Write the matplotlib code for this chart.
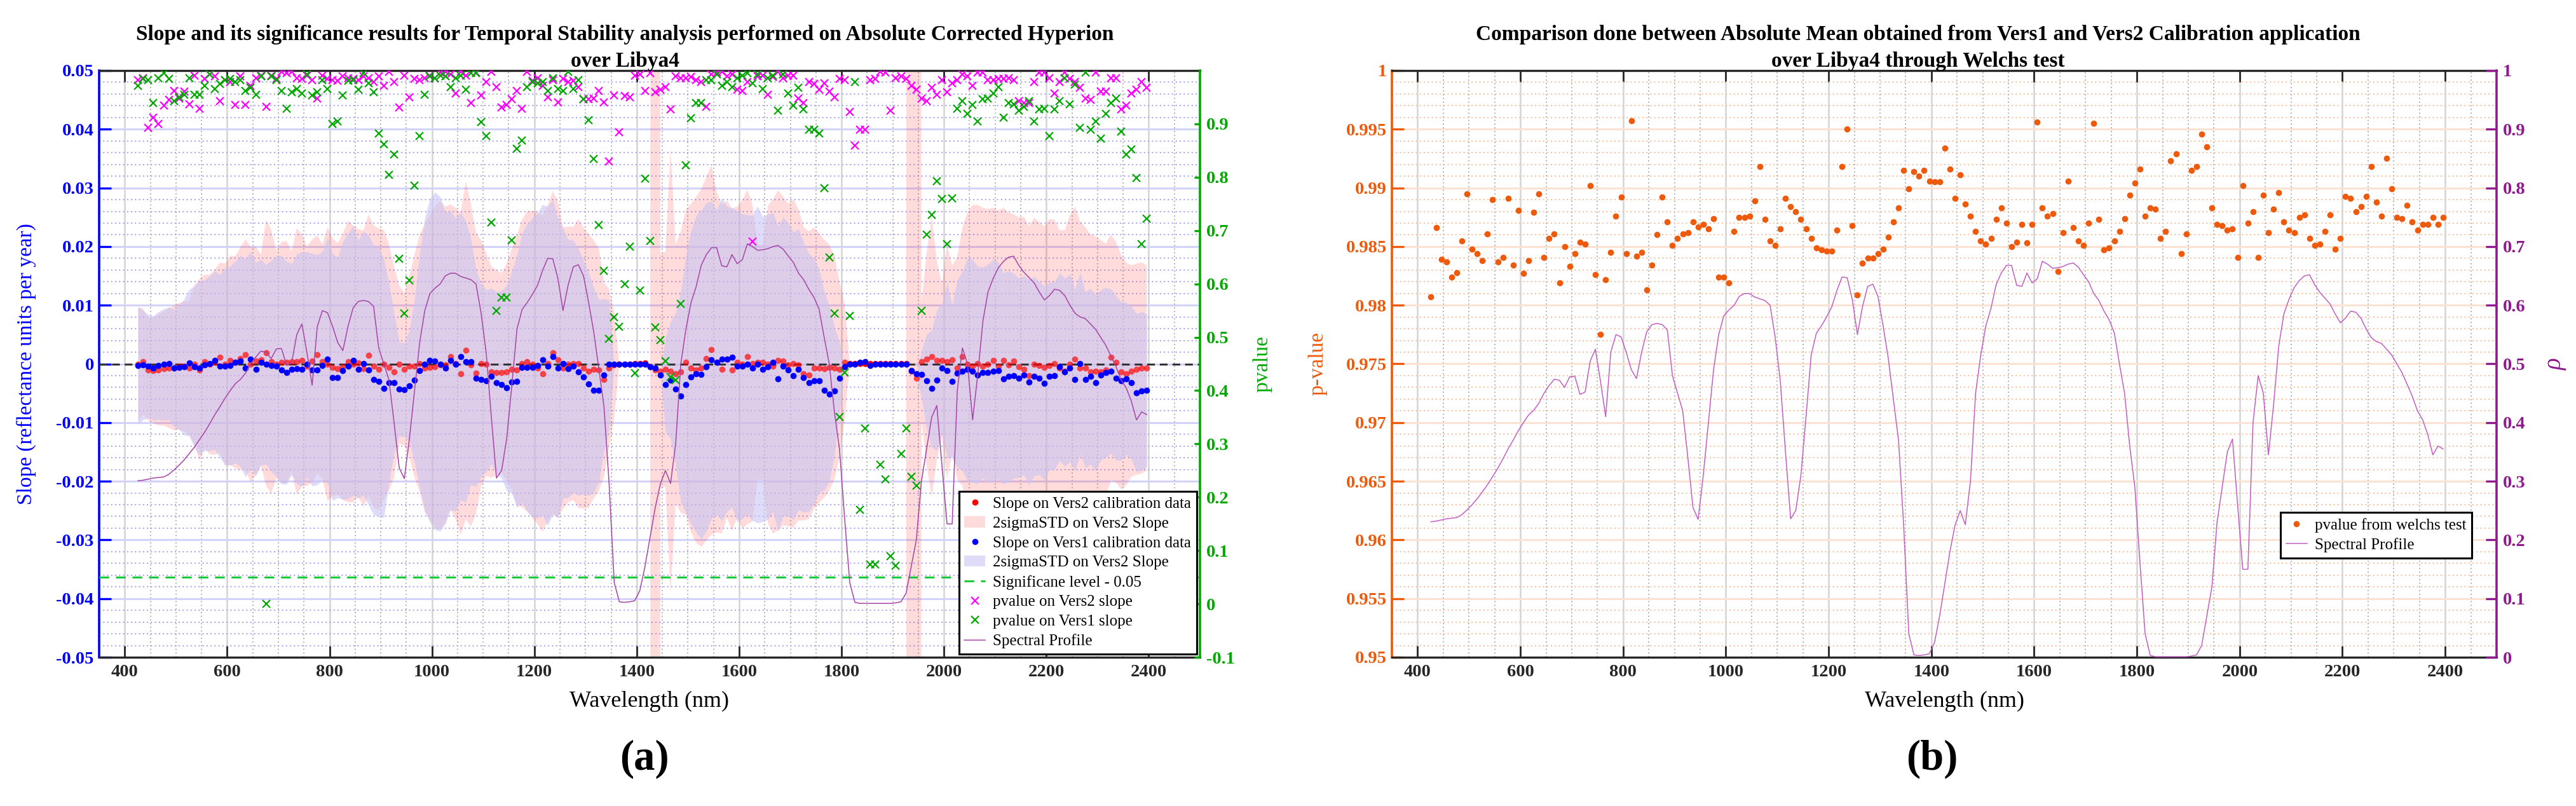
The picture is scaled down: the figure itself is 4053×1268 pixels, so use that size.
import numpy as np
import matplotlib
matplotlib.use('Agg')
import matplotlib.pyplot as plt
from matplotlib.ticker import MultipleLocator, FuncFormatter

plt.rcParams['font.family'] = ['Liberation Serif', 'DejaVu Serif']
plt.rcParams['font.weight'] = 'bold'

# band centres (nm), one value every ~10 nm
wavelength = np.arange(426, 2397, 10)

# ---- panel (a) -------------------------------------------------------
# slopes in 1e-4 reflectance units per year
slope_vers2_e4 = [
    -1, 4, -10, -11, -10, -8, -7, -7, -4, -4,
    -7, -1, -10, 4, -1, 3, 11, -1, 6, 3,
    9, 16, -1, 5, 7, 19, 4, -1, 3, 3,
    4, 4, 6, -4, 5, 16, 4,
    0, -6, -8, -5, 4, 0, 2, -8, 15, -4, -9, -1, -6, -14, -1, -9, -4, -4, 1, -7,
    -6, -5, -2, -2, 12, 1, -17, 23, -2, -16,
    1, -1, -14, -15, -15, -14, -9, -10, 1, 4,
    -1, -7, -17, 1, 19, 7, -7, -1, 1, 1,
    -7, -12, -9, -10, -27,
    -7, -2, 0, 0, 0, 1, 1, 2, -5,
    -10, -12, -9, -12, -17, -14, 3, -7, -10, -7, 9, 24, 3, -9, 8, -10, 3, -1, 12, 1,
    3, 3, -1, -4, 6, 5, -2, 1, -2, -17, -19, -7, -7, -8, -6, -7, -9, 3,
    1, 1, 1, 1, 1, 1, 1, 1, 1, 1, 1, 1,
    -12, -24, 4, 8, 12, 6, 6, 4, 7, -7, 12, -1, -4, 1, -4, -1, 6, -4, 6, -2,
    5, -5, -9, -20, -1, -3, -6, -3, 1, -7, -12, -1, 8, -7, -7, -14, -12, -14, -10, 11,
    3, -14, -17, -12, -9, -7, -7,
]
slope_vers1_e4 = [
    -3, -2, -4, -7, -3, -1, 1, -7, -6, -5,
    2, -5, -7, -2, 1, 6, -4, -4, -3, 3,
    5, -7, 8, -9, 3, -1, -3, -4, -10, -15,
    -9, -8, -9, -1, -10, -10, -3,
    8, -23, -23, -11, -4, 6, -9, 1, -10, -27, -30, -42, -32, -32, -43, -44, -37, -28, -11, -1,
    6, 5, 0, -7, 6, -1, 13, 4, 4, -24,
    -27, -29, -21, -32, -35, -41, -31, -30, -6, -6,
    -6, -3, 7, -4, 12, -7, 1, -8, -4, -14,
    -22, -34, -45, -45, -19,
    -1, 0, 0, 0, 0, 0, 0, 0, -5,
    -7, -19,
    -35, -28, -43, -55, -35, -22, -17, -18, -5, 7,
    3, 8, 8, 11, -4, -4, -1, -7, -1, -9,
    -5, 3, -25, -4, -10, -20, -9, -23, -32, -29,
    -29, -45, -51, -46, -24, -5, -1, 0, 3, 4,
    -3, 0, 0, 0, 0, 0, 0, 0, -11, -17,
    -18, -29, -42, -28, -7, -11, -30, -16, -12, -9,
    -12, -19, -15, -15, -12, -11, -25, -21, -20, -24,
    -19, -31, -21, -24, -33, -21, -20, -5, -14, -7,
    -27, 1, -27, -21, -32, -19, -15, -12, -24, -29,
    -25, -32, -49, -46, -45,
]
# 2 sigma half widths in 1e-3 reflectance units per year
sigma2_vers2_e3 = [
    9.8, 9.0, 8.7, 9.0, 9.5, 9.7, 10.2, 10.6, 10.8, 11.0,
    11.5, 13.5, 15.5, 14.8, 15.3, 15.8, 16.2, 17.2, 17.8, 18.1,
    19.0, 19.7, 20.0, 19.5, 18.0, 22.7, 22.5, 19.4, 20.5, 20.7,
    18.8, 22.7, 21.5, 20.4, 20.7, 20.3, 20.0, 23.3, 22.0, 21.4,
    22.7, 24.0, 23.6, 22.8, 23.5, 24.0, 24.0, 24.0, 23.0, 21.0,
    18.0, 13.5, 13.0, 15.5, 19.0, 22.0, 24.5, 26.0, 27.5, 28.0,
    27.0, 26.0, 26.5, 27.5, 28.8, 27.5, 24.0, 21.0, 19.0, 18.0,
    17.5, 17.0, 18.5, 20.5, 23.0, 24.5, 25.6, 26.2, 26.6, 26.9,
    27.0, 27.5, 27.0, 24.0, 23.5, 23.3, 24.6, 24.0, 23.3, 22.0,
    20.7, 16.5, 13.5, 9.0, 0, 0, 0, 0, 0, 0,
    0, 900, 20, 20, 38, 22, 24, 26, 28, 29.5,
    30.5, 31, 31.5, 29, 28, 27, 27.5, 26.5, 28.0, 28.5,
    27, 20, 20, 27, 28.5, 29, 28, 27.5, 28, 26.5,
    25, 24.5, 24, 23, 22, 21, 19, 15, 10, 0,
    0, 0, 0, 0, 0, 0, 0, 0, 0, 0,
    0, 900, 900, 10, 18, 24, 17, 13, 20, 16,
    19, 22, 26, 27.5, 27, 27, 26.5, 26, 26.5, 26,
    26, 25, 25.5, 26, 25.5, 25, 24.5, 24, 25, 24.5,
    23.5, 24, 25.5, 26, 25, 24, 23.5, 23, 22.5, 21.5,
    21, 20.5, 20, 19, 18, 18, 18, 17.5,
]
sigma2_vers1_e3 = [
    10.0, 9.3, 8.8, 8.9, 9.2, 9.5, 9.6, 10.0, 10.6, 11.6,
    12.5, 13.8, 14.8, 14.6, 14.9, 15.2, 15.6, 16.8, 17.0, 17.2,
    18.0, 18.6, 18.4, 18.2, 17.5, 17.0, 18.0, 18.8, 19.5, 19.0,
    18.0, 19.6, 20.0, 19.2, 19.8, 19.6, 19.5, 20.8, 21.0, 20.5,
    22.0, 22.6, 23.0, 22.0, 22.5, 23.0, 23.0, 23.0, 22.0, 17.0,
    12.0, 8.0, 8.0, 9.5, 14.0, 20.0, 25.0, 27.6, 28.8, 28.5,
    26.5, 25.5, 25.0, 24.5, 24.0, 21.0, 18.5, 16.5, 15.5, 15.0,
    15.5, 16.0, 17.5, 19.0, 21.5, 23.0, 24.5, 25.5, 26.0, 26.5,
    27.2, 26.8, 25.5, 23.0, 22.0, 21.5, 21.0, 20.0, 19.0, 17.5,
    15.5, 13.0, 11.0, 0, 0, 0, 0, 0, 0, 0,
    0, 0, 0, 8, 10, 13, 18, 22, 25, 27,
    28, 28, 27, 26, 27.5, 26, 25.5, 26.5, 26.0, 25.5,
    26, 27, 26, 26, 25.5, 26, 25.5, 25, 24.5, 24,
    23, 22, 21, 19, 17, 15, 11, 6, 0, 0,
    0, 0, 0, 0, 0, 0, 0, 0, 0, 0,
    0, 0, 0, 4, 8, 10, 12, 11, 15, 13,
    16, 17, 19, 19, 18.5, 18, 18.5, 19, 18.5, 18,
    18, 17.5, 17, 17, 17.5, 17, 16.5, 16.5, 16, 16,
    16, 16, 16, 15.5, 15.5, 15, 15, 15, 14.5, 14.5,
    14, 14, 13.5, 13, 13, 13.5, 13.5, 13,
]
pvalue_vers2 = [
    0.982, 0.986, 0.893, 0.912, 0.900, 0.934, 0.945, 0.962, 0.948, 0.961,
    0.937, 0.991, 0.929, 0.984, 0.993, 0.989, 0.943, 0.982, 0.979, 0.936,
    0.989, 0.936, 0.971, 0.986, 0.991, 0.932, 0.991, 0.984, 0.998, 0.995,
    0.998, 0.986, 0.984, 0.991, 0.982, 0.948, 0.991, 0.984, 0.982, 0.981,
    0.989,
    0.986, 0.984, 0.982, 0.989, 0.986, 0.979, 0.989, 0.971, 0.998, 0.979,
    0.931, 0.991, 0.950, 0.984, 0.982, 0.986, 0.991, 0.986, 0.996, 0.998,
    0.993, 0.957, 0.998, 0.991, 0.939, 0.996, 0.954, 0.979, 0.998, 0.969,
    0.931, 0.936, 0.946, 0.962, 0.929, 0.998, 0.981, 0.986, 0.971, 0.950,
    0.982, 0.941, 0.984, 0.979, 0.981, 0.969, 0.946, 0.946, 0.948, 0.962,
    0.941, 0.829, 0.954, 0.884, 0.952, 0.950, 0.991,
    0.993, 0.962, 0.995, 0.959, 0.964, 0.969, 0.927, 0.989, 0.986, 0.986,
    0.988, 0.982, 0.979, 0.932, 0.993, 0.996, 0.998, 0.989, 0.993, 0.964,
    0.962, 0.979, 0.679, 0.989, 0.991, 0.955, 0.988, 0.998, 0.986, 0.991,
    0.991, 0.948, 0.939, 0.979, 0.975, 0.964, 0.976, 0.961, 0.950, 0.984,
    0.982, 0.922, 0.859, 0.889, 0.889, 0.982, 0.984, 0.998, 0.996, 0.925,
    0.986, 0.989, 0.984, 0.971, 0.964, 0.948, 0.943, 0.968, 0.955, 0.982,
    0.959, 0.976, 0.982, 0.993, 0.989, 0.971, 0.996, 0.996, 0.982, 0.982,
    0.984, 0.984, 0.986, 0.982, 0.943, 0.939, 0.939, 0.979, 0.996, 0.996,
    0.986, 0.957, 0.979, 0.996, 0.984, 0.979, 0.968, 0.948, 0.945, 0.996,
    0.961, 0.961, 0.986, 0.986, 0.927, 0.934, 0.957, 0.964, 0.979, 0.968,
]
pvalue_vers1 = [
    0.971, 0.984, 0.982, 0.939, 0.986, 0.995, 0.984, 0.943, 0.950, 0.955,
    0.986, 0.955, 0.955, 0.971, 0.993, 0.966, 0.975, 0.982, 0.984, 0.979,
    0.982, 0.962, 0.968, 0.955, 0.989, 0.000, 0.989, 0.982, 0.962, 0.929,
    0.959, 0.966, 0.957, 0.993, 0.954, 0.959, 0.982, 0.966, 0.900, 0.905,
    0.954, 0.981, 0.982, 0.964, 0.995, 0.976, 0.959, 0.882, 0.862, 0.804, 0.843,
    0.647, 0.545, 0.607, 0.784, 0.877, 0.955, 0.989, 0.986, 0.991, 0.989,
    0.969, 0.986, 0.991, 0.964, 0.995, 0.995, 0.904, 0.877, 0.715, 0.550,
    0.575, 0.574, 0.682, 0.854, 0.869, 0.969, 0.979, 0.976, 0.979, 0.962,
    0.986, 0.966, 0.962, 0.998, 0.966, 0.982, 0.946, 0.907, 0.834, 0.710,
    0.624, 0.497, 0.538, 0.520, 0.600, 0.670, 0.433,
    0.588, 0.797, 0.681, 0.518, 0.495, 0.455, 0.425, 0.420, 0.563, 0.822,
    0.911, 0.939, 0.939, 0.982, 0.982, 0.993, 0.971, 0.979, 0.969, 0.986,
    0.991, 0.995, 0.976, 0.993, 0.966, 0.986, 0.991, 0.925, 0.993, 0.957,
    0.934, 0.968, 0.927, 0.889, 0.889, 0.882, 0.779, 0.650, 0.545, 0.350,
    0.434, 0.540, 0.979, 0.177, 0.329, 0.074, 0.074, 0.261, 0.234, 0.090,
    0.072, 0.281, 0.329, 0.238, 0.222, 0.550, 0.693, 0.729, 0.793, 0.759,
    0.675, 0.761, 0.929, 0.943, 0.919, 0.936, 0.905, 0.946, 0.948, 0.957,
    0.969, 0.912, 0.939, 0.937, 0.925, 0.932, 0.943, 0.905, 0.927, 0.929,
    0.877, 0.927, 0.943, 0.986, 0.937, 0.974, 0.893, 0.996, 0.889, 0.905,
    0.873, 0.919, 0.939, 0.948, 0.886, 0.843, 0.852, 0.798, 0.675, 0.722,
]
# spectral profile (reflectance), plotted on the right axis of both panels
spectral_profile = [
    0.231, 0.232, 0.234, 0.236, 0.237, 0.238, 0.243, 0.251, 0.260, 0.270,
    0.282, 0.294, 0.308, 0.322, 0.338, 0.355, 0.370, 0.386, 0.400, 0.413,
    0.421, 0.433, 0.450, 0.463, 0.474, 0.472, 0.460, 0.478, 0.479, 0.448,
    0.452, 0.505, 0.525, 0.470, 0.410, 0.520, 0.550, 0.546, 0.520, 0.490,
    0.475, 0.520, 0.555, 0.567, 0.569, 0.567, 0.558, 0.480, 0.450, 0.420,
    0.340, 0.255, 0.235, 0.310, 0.400, 0.490, 0.550, 0.582, 0.592, 0.600,
    0.615, 0.620, 0.620, 0.614, 0.611, 0.608, 0.600, 0.545, 0.470, 0.350,
    0.236, 0.250, 0.310, 0.410, 0.515, 0.552, 0.565, 0.580, 0.597, 0.625,
    0.648, 0.647, 0.610, 0.550, 0.598, 0.632, 0.636, 0.615, 0.565, 0.510,
    0.440, 0.370, 0.225, 0.040, 0.004, 0.003, 0.004, 0.006, 0.025, 0.070,
    0.125, 0.180, 0.225, 0.250, 0.226, 0.300, 0.450, 0.515, 0.565, 0.595,
    0.635, 0.655, 0.668, 0.668, 0.634, 0.632, 0.655, 0.638, 0.645, 0.675,
    0.670, 0.663, 0.664, 0.666, 0.670, 0.672, 0.665, 0.652, 0.640, 0.620,
    0.608, 0.590, 0.575, 0.553, 0.500, 0.450, 0.360, 0.290, 0.160, 0.040,
    0.003, 0.001, 0.001, 0.001, 0.001, 0.001, 0.001, 0.001, 0.002, 0.004,
    0.020, 0.070, 0.120, 0.230, 0.290, 0.350, 0.372, 0.260, 0.150, 0.150,
    0.400, 0.480, 0.450, 0.345, 0.430, 0.530, 0.585, 0.610, 0.630, 0.642,
    0.650, 0.652, 0.635, 0.622, 0.612, 0.602, 0.585, 0.570, 0.578, 0.590,
    0.588, 0.578, 0.560, 0.545, 0.538, 0.535, 0.525, 0.515, 0.500, 0.485,
    0.465, 0.445, 0.420, 0.405, 0.380, 0.345, 0.360, 0.355,
]

# ---- panel (b) -------------------------------------------------------
pvalue_welch = [
    0.9807, 0.9866, 0.9839, 0.9837, 0.9824, 0.9828, 0.9855, 0.9895, 0.9848, 0.9844,
    0.9838, 0.9861, 0.9890, 0.9837, 0.9841, 0.9891, 0.9834, 0.9881, 0.9827, 0.9838,
    0.9879, 0.9895, 0.9841, 0.9857, 0.9861, 0.9819, 0.9850, 0.9833, 0.9844, 0.9854,
    0.9852, 0.9902, 0.9826, 0.9775, 0.9822, 0.9845, 0.9876, 0.9892, 0.9844, 0.9957,
    0.9842, 0.9845, 0.9813, 0.9834, 0.9860, 0.9892, 0.9871, 0.9851, 0.9857, 0.9861,
    0.9862, 0.9871, 0.9867, 0.9869, 0.9865, 0.9874, 0.9824, 0.9824, 0.9819, 0.9863,
    0.9875, 0.9875, 0.9876, 0.9889, 0.9918, 0.9873, 0.9855, 0.9851, 0.9865, 0.9891,
    0.9884, 0.9880, 0.9873, 0.9865, 0.9857, 0.9849, 0.9847, 0.9846, 0.9846, 0.9864,
    0.9918, 0.9950, 0.9868, 0.9809, 0.9836, 0.9840, 0.9840, 0.9844, 0.9848, 0.9858,
    0.9871, 0.9883, 0.9915, 0.9899, 0.9914, 0.9910, 0.9915, 0.9906, 0.9905, 0.9905,
    0.9934, 0.9916,
    0.9891, 0.9911, 0.9886, 0.9876, 0.9863, 0.9855, 0.9852, 0.9857, 0.9873, 0.9883,
    0.9870, 0.9850, 0.9854, 0.9869, 0.9853, 0.9869, 0.9956, 0.9883, 0.9876, 0.9878,
    0.9829, 0.9862, 0.9906, 0.9866, 0.9855, 0.9851, 0.9870, 0.9955, 0.9873, 0.9847,
    0.9849, 0.9855, 0.9863, 0.9874, 0.9894, 0.9904, 0.9916, 0.9876, 0.9883, 0.9882,
    0.9857, 0.9863, 0.9923, 0.9929, 0.9844, 0.9861, 0.9915, 0.9918, 0.9946, 0.9935,
    0.9883, 0.9869, 0.9868, 0.9864, 0.9865, 0.9841, 0.9902, 0.9870, 0.9880, 0.9841,
    0.9894, 0.9862, 0.9882, 0.9896, 0.9871, 0.9864, 0.9862, 0.9875, 0.9877, 0.9857,
    0.9851, 0.9852, 0.9863, 0.9877, 0.9848, 0.9857, 0.9893, 0.9891, 0.9880, 0.9884,
    0.9893, 0.9918, 0.9888, 0.9876, 0.9925, 0.9899, 0.9875, 0.9874, 0.9885, 0.9871,
    0.9864, 0.9869, 0.9869, 0.9875, 0.9869, 0.9875,
]

# ---- colours -----------------------------------------------------------
BLUE = '#0000ff'
GREEN = '#00a800'
SIG_GREEN = '#19c93c'
MAGENTA = '#ff00ff'
PROFILE = '#a445a4'
ORANGE = '#ee5a0c'
PURPLE = '#8e1a8e'
DARK = '#262626'

slope2 = np.array(slope_vers2_e4) * 1e-4
slope1 = np.array(slope_vers1_e4) * 1e-4
half2 = np.array(sigma2_vers2_e3) * 1e-3
half1 = np.array(sigma2_vers1_e3) * 1e-3


def nice(v, pos):
    v = round(v, 4)
    if abs(v) < 1e-9:
        v = 0
    return '%g' % v


def style_x(ax):
    ax.set_xlim(350, 2500)
    ax.xaxis.set_major_locator(MultipleLocator(200))
    ax.xaxis.set_minor_locator(MultipleLocator(50))
    ax.tick_params(axis='x', which='major', direction='in', length=13, width=2,
                   colors=DARK, labelsize=20.5, pad=8, top=True)
    ax.tick_params(axis='x', which='minor', length=0, top=True)
    ax.grid(which='major', axis='x', color='#d4d4d4', lw=1.8, ls='-')
    ax.grid(which='minor', axis='x', color='#a6a6a6', lw=1.3, ls=(0, (1, 2.2)))
    for s in ['top', 'bottom']:
        ax.spines[s].set_color(DARK)
        ax.spines[s].set_linewidth(2.4)
    ax.set_axisbelow(True)


legend_style = dict(fancybox=False, framealpha=1, edgecolor='black',
                    prop={'weight': 'normal', 'size': 18}, handlelength=1.3,
                    labelspacing=0.33, borderpad=0.35, handletextpad=0.5)

fig = plt.figure(figsize=(40.53, 12.68), dpi=100)

# ======================= panel (a) =======================================
ax = fig.add_axes([156 / 4053, 234 / 1268, 1732 / 4053, 923 / 1268])
ax2 = ax.twinx()

style_x(ax)
ax.set_ylim(-0.05, 0.05)
ax.yaxis.set_major_locator(MultipleLocator(0.01))
ax.yaxis.set_minor_locator(MultipleLocator(0.002))
ax.yaxis.set_major_formatter(FuncFormatter(nice))
ax.tick_params(axis='y', which='major', direction='in', length=14, width=2.4,
               colors=BLUE, labelsize=20.5, pad=6)
ax.tick_params(axis='y', which='minor', length=0)
ax.grid(which='major', axis='y', color='#d2d2fb', lw=2.2, ls='-')
ax.grid(which='minor', axis='y', color='#a9a9f0', lw=1.5, ls=(0, (1, 2)))
ax.spines['left'].set_color(BLUE)
ax.spines['left'].set_linewidth(2.6)
ax.spines['right'].set_visible(False)

fill2 = ax.fill_between(wavelength, slope2 - half2, slope2 + half2, color='#ff0000',
                        alpha=0.14, lw=0, zorder=1, label='2sigmaSTD on Vers2 Slope')
fill1 = ax.fill_between(wavelength, slope1 - half1, slope1 + half1, color='#c9c5f4',
                        alpha=0.6, lw=0, zorder=2, label='2sigmaSTD on Vers2 Slope')
ax.axhline(0, color='#333333', lw=2.2, ls=(0, (4, 2.5)), zorder=3)
covered = half2 > 0
ax.plot(wavelength[covered], slope2[covered], 'o', color='red', alpha=0.68, ms=7,
        mew=0, zorder=4)
red_pts, = ax.plot(wavelength[~covered], slope2[~covered], 'o', color='red', ms=7,
                   mew=0, zorder=4, label='Slope on Vers2 calibration data')
blue_pts, = ax.plot(wavelength, slope1, 'o', color=BLUE, ms=7, mew=0, zorder=5,
                    label='Slope on Vers1 calibration data')

ax2.set_ylim(-0.1, 1.0)
ax2.set_yticks(np.arange(-0.1, 0.95, 0.1))
ax2.yaxis.set_major_formatter(FuncFormatter(nice))
ax2.tick_params(axis='y', direction='in', length=6.5, width=2.4, colors=GREEN,
                labelsize=20.5, pad=7)
for s in ['left', 'top', 'bottom']:
    ax2.spines[s].set_visible(False)
ax2.spines['right'].set_color(GREEN)
ax2.spines['right'].set_linewidth(2.6)

sig_line = ax2.axhline(0.05, color=SIG_GREEN, lw=2.2, ls=(0, (5, 3.5)),
                       label='Significane level - 0.05')
mag_pts, = ax2.plot(wavelength, pvalue_vers2, 'x', color=MAGENTA, ms=9, mew=1.6,
                    label='pvalue on Vers2 slope')
grn_pts, = ax2.plot(wavelength, pvalue_vers1, 'x', color=GREEN, ms=9, mew=1.6,
                    label='pvalue on Vers1 slope')
prof_a, = ax2.plot(wavelength, spectral_profile, color=PROFILE, lw=1.1,
                   label='Spectral Profile')

handles = [red_pts, fill2, blue_pts, fill1, sig_line, mag_pts, grn_pts, prof_a]
leg = ax2.legend(handles, [h.get_label() for h in handles], loc='lower right',
                 bbox_to_anchor=(1.0, 0.0), borderaxespad=0.2, **legend_style)
leg.get_frame().set_linewidth(2.2)

ax.set_ylabel('Slope (reflectance units per year)', color=BLUE, fontsize=24)
ax.yaxis.set_label_coords(-0.057, 0.5)
ax2.set_ylabel('pvalue', color=GREEN, fontsize=24)
ax2.yaxis.set_label_coords(1.048, 0.5)
ax.set_xlabel('Wavelength (nm)', fontsize=26, fontweight='normal', labelpad=12)

fig.text(983 / 4053, 1 - 54 / 1268, 'Slope and its significance results for Temporal '
         'Stability analysis performed on Absolute Corrected Hyperion',
         ha='center', va='center', fontsize=24)
fig.text(983 / 4053, 1 - 97 / 1268, 'over Libya4', ha='center', va='center', fontsize=24)
fig.text(1014 / 4053, 1 - 1194 / 1268, '(a)', ha='center', va='center', fontsize=48)

# ======================= panel (b) =======================================
bx = fig.add_axes([2190 / 4053, 234 / 1268, 1738 / 4053, 923 / 1268])
bx2 = bx.twinx()

style_x(bx)
bx.set_ylim(0.95, 1.0)
bx.yaxis.set_major_locator(MultipleLocator(0.005))
bx.yaxis.set_minor_locator(MultipleLocator(0.001))
bx.yaxis.set_major_formatter(FuncFormatter(nice))
bx.tick_params(axis='y', which='major', direction='in', length=14, width=2.4,
               colors=ORANGE, labelsize=20.5, pad=6)
bx.tick_params(axis='y', which='minor', length=0)
bx.grid(which='major', axis='y', color='#fde1d3', lw=2.2, ls='-')
bx.grid(which='minor', axis='y', color='#f7c3a2', lw=1.5, ls=(0, (1, 2)))
bx.spines['left'].set_color(ORANGE)
bx.spines['left'].set_linewidth(2.6)
bx.spines['right'].set_visible(False)

welch_pts, = bx.plot(wavelength, pvalue_welch, 'o', color=ORANGE, ms=7, mew=0,
                     zorder=4, label='pvalue from welchs test')

bx2.set_ylim(0, 1)
bx2.yaxis.set_major_locator(MultipleLocator(0.1))
bx2.yaxis.set_major_formatter(FuncFormatter(nice))
bx2.tick_params(axis='y', direction='in', length=12, width=2.4, colors=PURPLE,
                labelsize=20.5, pad=7)
for s in ['left', 'top', 'bottom']:
    bx2.spines[s].set_visible(False)
bx2.spines['right'].set_color(PURPLE)
bx2.spines['right'].set_linewidth(2.6)
prof_b, = bx2.plot(wavelength, spectral_profile, color='#c15fc1', lw=1.1,
                   label='Spectral Profile')

leg_b = bx2.legend([welch_pts, prof_b], ['pvalue from welchs test', 'Spectral Profile'],
                   loc='center right', bbox_to_anchor=(0.985, 0.208), **legend_style)
leg_b.get_frame().set_linewidth(2.2)

bx.set_ylabel('p-value', color=ORANGE, fontsize=24)
bx.yaxis.set_label_coords(-0.0587, 0.5)
bx2.set_ylabel('ρ', color=PURPLE, fontsize=28, fontstyle='italic')
bx2.yaxis.set_label_coords(1.0426, 0.5)
bx.set_xlabel('Wavelength (nm)', fontsize=26, fontweight='normal', labelpad=12)

fig.text(3018 / 4053, 1 - 54 / 1268, 'Comparison done between Absolute Mean obtained '
         'from Vers1 and Vers2 Calibration application',
         ha='center', va='center', fontsize=24)
fig.text(3018 / 4053, 1 - 97 / 1268, 'over Libya4 through Welchs test',
         ha='center', va='center', fontsize=24)
fig.text(3040 / 4053, 1 - 1194 / 1268, '(b)', ha='center', va='center', fontsize=48)

fig.savefig('out.png', dpi=100, facecolor='white')
